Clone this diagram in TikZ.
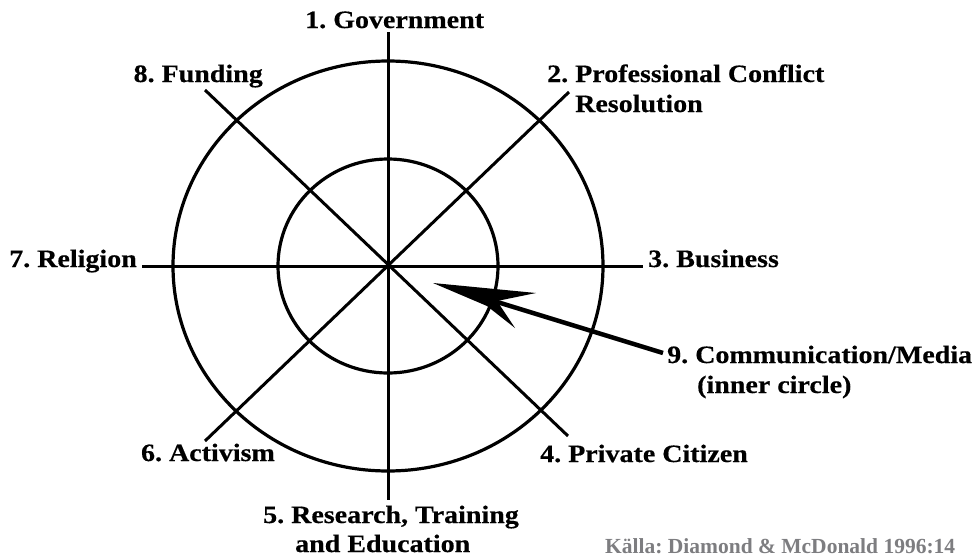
\documentclass[tikz,border=0pt]{standalone}
\usepackage{fontspec}
\setmainfont{Liberation Serif}[FakeStretch=1.12,BoldFeatures={FakeBold=0.4}]
\newfontfamily\srcfont{Liberation Serif}
\definecolor{srcgray}{RGB}{125,125,128}
\frenchspacing
\begin{document}
\begin{tikzpicture}[x=1pt,y=-1pt,
  lab/.style={anchor=base west,inner sep=0pt,font=\fontsize{25}{30}\selectfont\bfseries},
  src/.style={anchor=base west,inner sep=0pt,text=srcgray,font=\srcfont\fontsize{21.5}{25}\selectfont\bfseries},
  ring/.style={line width=3.2pt},
  spoke/.style={line width=3pt},
  pointer/.style={line width=4.5pt}]
\useasboundingbox (0,0) rectangle (975,557);
\fill[white] (0,0) rectangle (975,557);
\coordinate (c) at (388,266);
% rings
\draw[ring] (c) ellipse [x radius=215, y radius=205];
\draw[ring] (c) ellipse [x radius=110, y radius=107];
% spoke ends
\coordinate (n) at (388,32);
\coordinate (s) at (388,500);
\coordinate (w) at (142,266);
\coordinate (e) at (643,266);
\coordinate (nw) at (205,90);
\coordinate (se) at (568,436);
\coordinate (ne) at (569,92);
\coordinate (sw) at (205,441);
\draw[spoke] (n) -- (s);
\draw[spoke] (w) -- (e);
\draw[spoke] (nw) -- (se);
\draw[spoke] (ne) -- (sw);
% labels
\node[lab] (l1) at (305,28) {1. Government};
\node[lab] (l2a) at (547,82) {2. Professional Conflict};
\node[lab] (l2b) at (575,112) {Resolution};
\node[lab] (l3) at (648,267) {3. Business};
\node[lab] (l4) at (540,462) {4. Private Citizen};
\node[lab] (l5a) at (263,523) {5. Research, Training};
\node[lab] (l5b) at (295,552) {and Education};
\node[lab,anchor=base east] (l6) at (275,461) {6. Activism};
\node[lab,anchor=base east] (l7) at (137,267) {7. Religion};
\node[lab,anchor=base east] (l8) at (263,82) {8. Funding};
\node[lab] (l9a) at (667,363) {9. Communication/Media};
\node[lab] (l9b) at (697,393) {(inner circle)};
\node[src] (srcnote) at (605,553) {Källa: Diamond \& McDonald 1996:14};
% pointer arrow
\coordinate (ptail) at (663,353);
\coordinate (pnotch) at (494,301);
\draw[pointer] (ptail) -- (pnotch);
\fill (433,283) -- (536,293) -- (497,301) -- (515,328) -- (487,306) -- cycle;
\end{tikzpicture}
\end{document}
